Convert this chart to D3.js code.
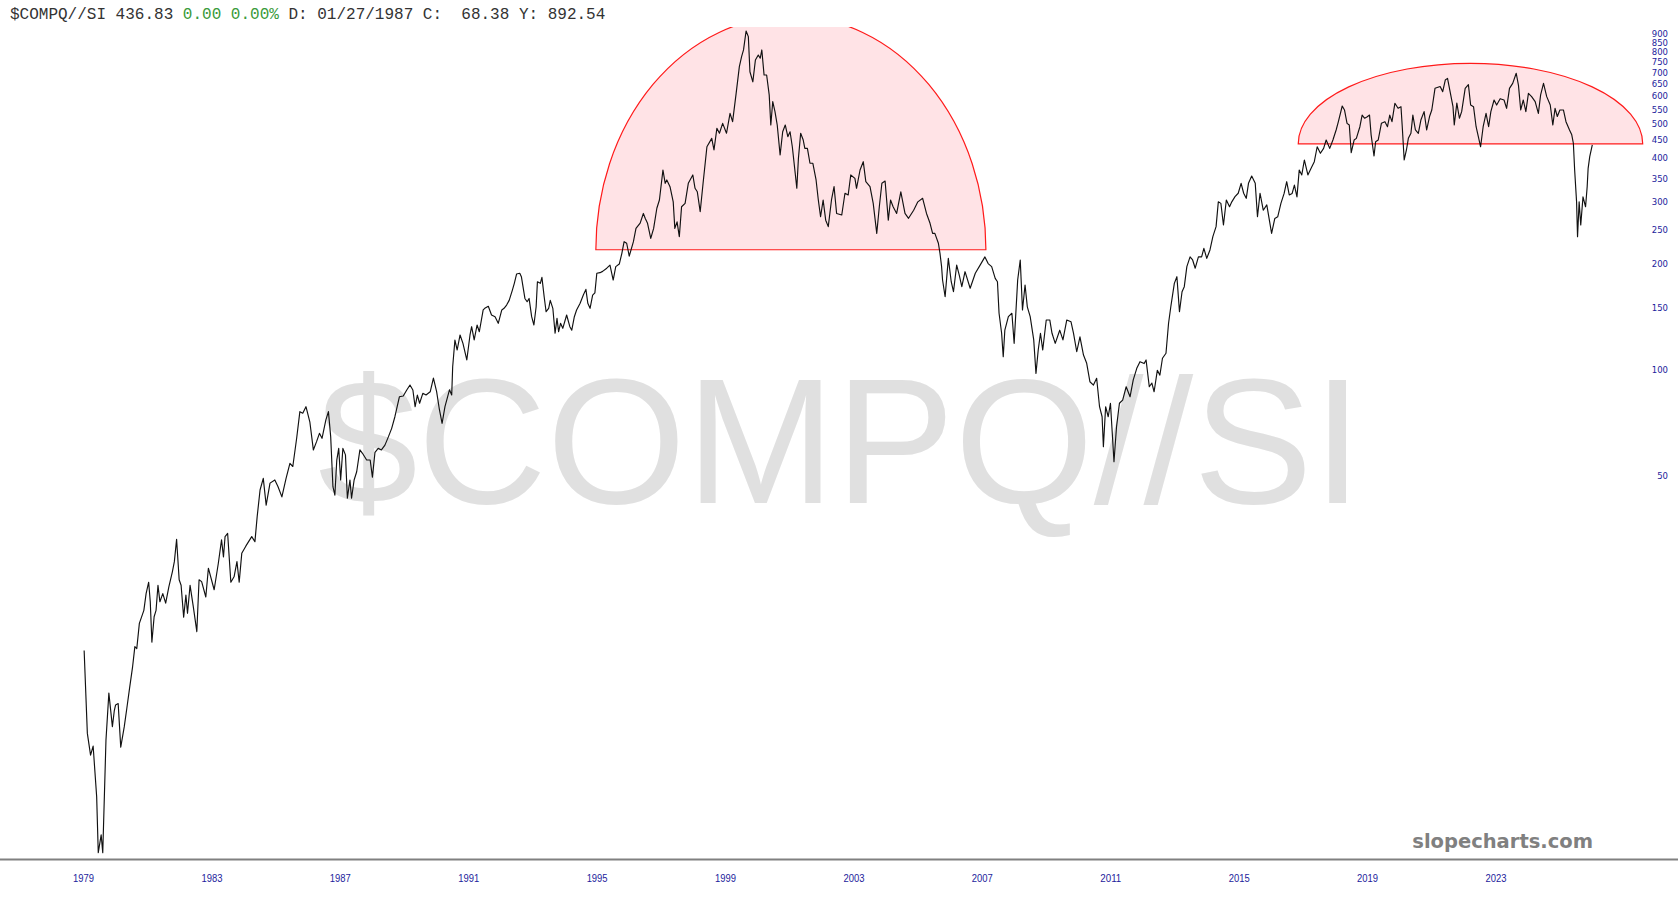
<!DOCTYPE html>
<html>
<head>
<meta charset="utf-8">
<script src="https://cdn.jsdelivr.net/npm/d3@7"></script>
<style>
  html, body { margin: 0; padding: 0; background: #fff; }
  svg { display: block; }
</style>
</head>
<body>
<div class="viz"></div>
<script>
// ratio $COMPQ / $SI (decimal year -> value)
var years = [
  1979.02,1979.12,1979.22,1979.30,1979.41,1979.46,1979.55,1979.60,1979.70,1979.79,1979.90,1979.96,
  1980.00,1980.08,1980.16,1980.27,1980.35,1980.43,1980.53,1980.60,1980.66,1980.74,1980.88,1980.95,
  1981.03,1981.08,1981.13,1981.20,1981.26,1981.32,1981.38,1981.47,1981.56,1981.66,1981.77,1981.83,1981.90,1981.98,
  1982.04,1982.12,1982.19,1982.24,1982.32,1982.42,1982.53,1982.60,1982.68,1982.81,1982.89,
  1983.07,1983.20,1983.30,1983.36,1983.41,1983.49,1983.59,1983.69,1983.78,1983.85,1983.93,
  1984.06,1984.24,1984.34,1984.41,1984.50,1984.60,1984.69,1984.81,1984.96,
  1985.06,1985.18,1985.31,1985.43,1985.52,1985.64,1985.74,1985.83,1985.93,
  1986.05,1986.16,1986.26,1986.35,1986.43,1986.55,1986.63,1986.70,1986.77,1986.83,1986.89,1986.95,
  1987.01,1987.08,1987.16,1987.22,1987.30,1987.35,1987.43,1987.51,1987.61,1987.69,1987.82,1987.93,
  1988.00,1988.08,1988.18,1988.28,1988.39,1988.50,1988.60,1988.70,1988.84,1988.96,
  1989.07,1989.17,1989.26,1989.33,1989.40,1989.47,1989.57,1989.67,1989.80,1989.90,
  1990.00,1990.08,1990.17,1990.26,1990.40,1990.47,1990.50,1990.57,1990.64,1990.73,1990.82,1990.94,
  1991.04,1991.09,1991.17,1991.26,1991.33,1991.45,1991.50,1991.61,1991.71,1991.82,1991.92,
  1992.03,1992.10,1992.18,1992.26,1992.36,1992.42,1992.49,1992.59,1992.64,1992.75,1992.82,1992.88,1992.96,
  1993.03,1993.10,1993.14,1993.23,1993.28,1993.35,1993.41,1993.49,1993.54,1993.62,1993.69,1993.75,1993.80,1993.86,1993.93,
  1994.05,1994.15,1994.21,1994.29,1994.36,1994.47,1994.57,1994.65,1994.71,1994.78,1994.86,1994.93,1994.99,
  1995.09,1995.17,1995.30,1995.40,1995.50,1995.58,1995.69,1995.77,1995.84,1995.92,
  1996.00,1996.13,1996.21,1996.34,1996.44,1996.50,1996.57,1996.67,1996.76,1996.86,1996.94,
  1997.05,1997.12,1997.17,1997.27,1997.37,1997.42,1997.49,1997.56,1997.63,1997.74,1997.84,1997.98,
  1998.05,1998.12,1998.21,1998.30,1998.42,1998.57,1998.64,1998.73,1998.81,1998.91,
  1999.03,1999.14,1999.22,1999.33,1999.43,1999.50,1999.56,1999.64,1999.71,1999.76,1999.85,1999.93,
  2000.02,2000.08,2000.13,2000.20,2000.28,2000.36,2000.41,2000.47,2000.54,2000.61,2000.70,2000.78,2000.86,2000.94,
  2001.01,2001.08,2001.17,2001.22,2001.27,2001.34,2001.42,2001.47,2001.55,2001.63,2001.72,2001.82,2001.89,2001.96,
  2002.04,2002.12,2002.20,2002.30,2002.38,2002.46,2002.62,2002.72,2002.82,2002.90,
  2003.03,2003.08,2003.19,2003.29,2003.37,2003.50,2003.60,2003.71,2003.79,2003.87,2003.97,
  2004.07,2004.14,2004.22,2004.33,2004.46,2004.59,2004.70,2004.86,2004.99,
  2005.14,2005.26,2005.37,2005.45,2005.52,2005.63,2005.68,2005.73,2005.76,2005.84,2005.94,
  2006.03,2006.10,2006.20,2006.28,2006.36,2006.46,2006.62,2006.78,2006.93,
  2007.08,2007.18,2007.29,2007.40,2007.47,2007.52,2007.60,2007.65,2007.70,2007.81,2007.92,2007.99,
  2008.10,2008.18,2008.25,2008.33,2008.40,2008.49,2008.60,2008.67,2008.74,2008.81,2008.88,2008.99,
  2009.10,2009.17,2009.27,2009.41,2009.51,2009.63,2009.76,2009.84,2009.94,
  2010.04,2010.15,2010.25,2010.35,2010.46,2010.56,2010.65,2010.73,2010.77,2010.84,2010.92,2010.99,
  2011.10,2011.18,2011.27,2011.37,2011.48,2011.60,2011.70,2011.81,2011.91,
  2012.04,2012.10,2012.20,2012.28,2012.35,2012.45,2012.53,2012.61,2012.72,2012.80,2012.87,2012.98,
  2013.06,2013.14,2013.22,2013.29,2013.37,2013.47,2013.55,2013.63,2013.73,2013.83,2013.90,2013.99,
  2014.09,2014.18,2014.28,2014.35,2014.43,2014.51,2014.60,2014.70,2014.77,2014.87,2014.97,
  2015.06,2015.14,2015.22,2015.29,2015.39,2015.50,2015.57,2015.65,2015.75,2015.86,
  2016.01,2016.11,2016.20,2016.30,2016.40,2016.48,2016.56,2016.65,2016.72,2016.80,2016.87,2016.95,
  2017.03,2017.14,2017.24,2017.34,2017.43,2017.53,2017.63,2017.71,2017.82,2017.92,
  2018.02,2018.09,2018.21,2018.28,2018.36,2018.43,2018.49,2018.58,2018.65,2018.76,2018.83,2018.91,2018.99,
  2019.06,2019.11,2019.20,2019.25,2019.33,2019.43,2019.54,2019.62,2019.69,2019.76,2019.85,2019.95,
  2020.04,2020.08,2020.14,2020.21,2020.27,2020.35,2020.41,2020.49,2020.58,2020.66,2020.76,2020.84,2020.93,
  2021.00,2021.10,2021.26,2021.34,2021.42,2021.49,2021.57,2021.66,2021.70,2021.78,2021.86,2021.93,
  2022.04,2022.14,2022.21,2022.30,2022.38,2022.45,2022.52,2022.60,2022.69,2022.77,2022.84,2022.94,
  2023.02,2023.13,2023.25,2023.33,2023.42,2023.52,2023.63,2023.70,2023.77,2023.85,2023.93,
  2024.01,2024.11,2024.22,2024.32,2024.39,2024.48,2024.58,2024.69,2024.77,2024.84,2024.91,2024.99,
  2025.10,2025.18,2025.29,2025.36,2025.41,2025.45,2025.51,2025.54,2025.59,2025.64,2025.71,2025.79,2025.84,2025.87,2025.92,
  2026.00
];
var values = [
  16.0,9.3,8.07,8.56,6.15,4.26,4.79,4.26,8.91,12.1,9.72,10.8,
  11.2,11.3,8.5,9.72,10.96,12.4,14.4,16.4,16.2,19.1,20.8,23.2,
  25.0,22.0,16.9,19.95,20.8,24.5,22.0,23.2,21.8,24.3,26.8,28.6,33.1,25.4,
  24.5,19.9,23.0,20.4,24.5,21.3,18.1,25.4,25.1,22.7,27.4,
  23.8,28.3,33.0,29.5,33.7,34.4,25.0,25.9,28.6,25.0,30.2,
  31.7,33.7,32.6,38.4,45.7,49.3,41.4,47.8,48.8,
  46.7,43.7,49.3,54.4,53.3,64.1,76.3,75.5,78.8,
  71.4,59.4,62.7,66.2,64.1,72.3,76.3,64.8,46.7,44.2,55.6,60.0,
  48.8,60.0,57.5,43.3,48.8,43.3,48.8,51.5,59.4,58.1,55.6,55.6,
  49.7,58.5,60.0,59.4,61.3,64.8,68.4,73.8,84.1,84.5,
  87.9,90.8,87.9,78.8,85.0,80.6,86.0,85.1,86.9,95.0,
  87.0,78.0,70.7,78.8,88.0,85.1,102.4,121.9,114.2,126,119.3,107,
  126,133,122,134.5,128.7,148.4,150,152,143.6,142,136,
  148.4,150,153.2,158,169,176.6,187.7,188.7,184.5,160,156.6,160,142,
  134.5,151.5,178.5,176.6,183.7,161.8,146.7,150,158,150,127.4,140.5,128.7,136,131.6,
  143.6,133,130,142,148.4,155,163.6,169.8,155,150,163.6,166,188.7,
  189.4,191,195,199,180.5,197,200.4,214.9,232,229.6,
  211,232,253,262,279,270,261.6,237,253,288.6,304.7,
  370.7,339.8,347.3,332.4,301,253,264,239.7,291.5,298,339.8,358.9,
  328.9,321.5,282.2,339.8,431.6,456,422.6,486.9,471.4,503,
  471.4,537,508.6,612,728.8,778,813,920,887,705,660,761,
  786.6,770,813,690,690,606,497.6,579.6,543,497.6,409,476,497.6,461,
  476,431.6,362.8,328.9,400,471.4,451,427,427,387.4,387.4,347.3,304.7,273,
  304.7,267,255.9,304.7,332.4,279,276.2,318.4,314.8,358.9,
  351,328.9,370.7,391.4,343.4,332.4,298,244.9,291.5,339.8,345,
  267,304.7,291.5,279,321.5,279,270.3,285,301,
  308,279,261.6,244.9,244.9,229.6,214.9,197,180.5,161.8,208,
  178.5,167.2,199,186.5,172.8,190.6,171,188.7,199,
  210,201,197,182.5,178.5,145.2,127.4,109.3,130,142,145.2,119.3,
  180.5,205.8,148.4,174.7,151.5,142,122,98,114.2,127.4,114.2,139,
  139,127.4,119.3,130,122,139,137.4,127.4,112.9,
  124.5,110.5,104.7,92.8,90.8,94.9,78.8,73.8,60.7,78.8,73.8,80.6,
  55,69.2,80.6,82.3,89.8,84.1,93.9,101.3,105.8,
  104.5,107,89.8,92,86.9,100,96.9,108.2,111.8,136,151.5,176.6,
  184.5,146.7,167.2,172.8,197,210,205.8,195,210,210,222,208,
  219.7,239.7,255.9,301,298,258.7,304.7,291.5,301,311.4,318.4,
  339.8,318.4,308,339.8,356.5,339.8,273,318.4,285,295,
  244.9,270,273,298,318,343.4,315,318,336,311,370.7,359,
  395.8,359,374.8,391.4,431.6,413.5,427,451,427,451,
  481.6,508.6,563.4,549,503,497.6,415,451,456,492,531,520,525,
  531,466.5,406.3,446,451,503,508.6,492,531,508.6,573.5,555,
  561,492,395.8,422.6,456,471.4,531,481.6,471.4,514,543,481.6,526,
  549,632.5,640,619,667.7,675,619,561,497.6,574,520,543,
  632.5,648,567,561,492,461,431.6,492,537,492,543,586,
  567,591,586,555,632.5,653.5,698,645,549,586,543,
  612,599,580,537,606,653.5,599,567,497.6,555,526,549,
  549,508.6,481.6,466.5,441.6,370.7,301,239.7,301,258.7,311,291.5,332.4,374.8,404.5,
  436.83
];

// right-hand price scale labels
var yTicks = [50,100,150,200,250,300,350,400,450,500,550,600,650,700,750,800,850,900];
// date labels along the bottom
var xTickYears = [1979,1983,1987,1991,1995,1999,2003,2007,2011,2015,2019,2023];

// the two highlighted domes: start/end year, base value, apex value
var arcStart = [1994.96, 2016.84];
var arcEnd   = [2007.11, 2027.57];
var arcBase  = [220, 440];
var arcTop   = [1015, 745];

var symbol = "$COMPQ//SI";
var headerParts = [
  {t: "$COMPQ//SI 436.83 ", c: "#333"},
  {t: "0.00 0.00%", c: "#3a9a3a"},
  {t: " D: 01/27/1987 C:  68.38 Y: 892.54", c: "#333"}
];

var width = 1678, height = 900;

var x = d3.scaleLinear().domain([1979, 2023]).range([83.5, 1496]);
var y = d3.scaleLog().domain([100, 1000]).range([370.3, 18.3]);

var svg = d3.select(".viz").append("svg")
  .attr("width", width)
  .attr("height", height);

svg.append("defs").append("clipPath").attr("id", "plotclip")
  .append("rect").attr("x", 0).attr("y", 27).attr("width", width).attr("height", 833);

// big watermark
svg.append("text")
  .attr("x", 318).attr("y", 503)
  .attr("font-family", "'Liberation Sans', Arial, sans-serif")
  .attr("font-size", 179)
  .attr("fill", "#e0e0e0")
  .text(symbol);

// domes
var arcs = d3.range(arcStart.length).map(function(i) {
  return {s: arcStart[i], e: arcEnd[i], b: arcBase[i], t: arcTop[i]};
});
svg.append("g").attr("clip-path", "url(#plotclip)")
  .selectAll("path")
  .data(arcs)
  .enter().append("path")
  .attr("d", function(d) {
    var x0 = x(d.s), x1 = x(d.e), yb = y(d.b), yt = y(d.t);
    var rx = (x1 - x0) / 2, ry = yb - yt;
    return "M" + x0 + "," + yb + " A" + rx + "," + ry + " 0 0 1 " + x1 + "," + yb + " Z";
  })
  .attr("fill", "#ffe3e6")
  .attr("stroke", "#ff1a1a")
  .attr("stroke-width", 1.2);

// price line
var series = years.map(function(yr, i) { return {t: yr, v: values[i]}; });
var line = d3.line()
  .x(function(d) { return x(d.t); })
  .y(function(d) { return y(d.v); });

svg.append("path")
  .datum(series)
  .attr("d", line)
  .attr("fill", "none")
  .attr("stroke", "#111")
  .attr("stroke-width", 1.15)
  .attr("stroke-linejoin", "round");

// bottom rule
svg.append("line")
  .attr("x1", 0).attr("x2", width)
  .attr("y1", 859.5).attr("y2", 859.5)
  .attr("stroke", "#808080")
  .attr("stroke-width", 2);

// x labels
svg.append("g").selectAll("text")
  .data(xTickYears)
  .enter().append("text")
  .attr("x", function(d) { return x(d); })
  .attr("y", 881.5)
  .attr("text-anchor", "middle")
  .attr("textLength", 21)
  .attr("lengthAdjust", "spacingAndGlyphs")
  .attr("font-family", "'Liberation Sans', Arial, sans-serif")
  .attr("font-size", 11)
  .attr("fill", "#1c1c9c")
  .text(function(d) { return d; });

// y labels
svg.append("g").selectAll("text")
  .data(yTicks)
  .enter().append("text")
  .attr("x", 1668)
  .attr("y", function(d) { return y(d); })
  .attr("dy", "0.35em")
  .attr("text-anchor", "end")
  .attr("font-family", "'DejaVu Sans', Tahoma, sans-serif")
  .attr("font-size", 8.5)
  .attr("fill", "#1c1c9c")
  .text(function(d) { return d; });

// header readout
var hdr = svg.append("text")
  .attr("x", 10).attr("y", 19)
  .attr("font-family", "'Liberation Mono', 'Courier New', monospace")
  .attr("font-size", 16)
  .style("white-space", "pre");
hdr.selectAll("tspan")
  .data(headerParts)
  .enter().append("tspan")
  .attr("fill", function(d) { return d.c; })
  .text(function(d) { return d.t; });

// site stamp
svg.append("text")
  .attr("x", 1593).attr("y", 848)
  .attr("text-anchor", "end")
  .attr("font-family", "'DejaVu Sans', Verdana, sans-serif")
  .attr("font-weight", "bold")
  .attr("font-size", 19.5)
  .attr("fill", "#808080")
  .text("slopecharts.com");
</script>
</body>
</html>
